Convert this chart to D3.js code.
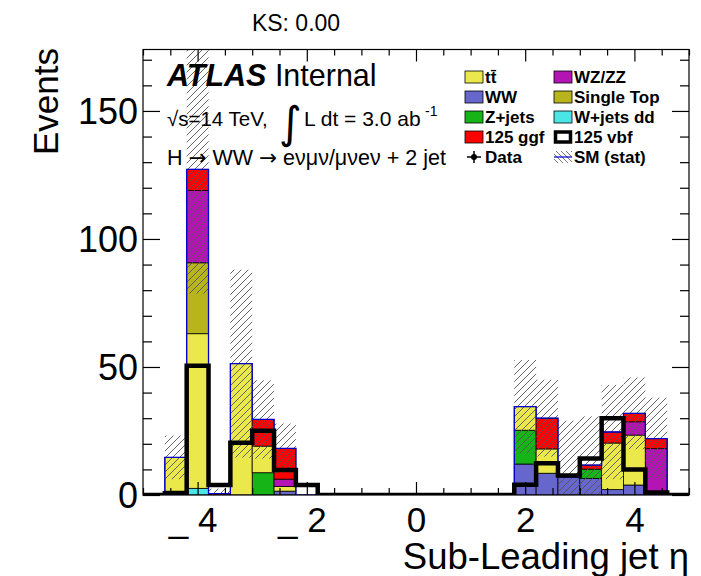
<!DOCTYPE html>
<html>
<head>
<meta charset="utf-8">
<title>Sub-Leading jet eta</title>
<script src="https://d3js.org/d3.v7.min.js"></script>
<style>
  body { margin: 0; background: #fff; }
  text { font-family: "Liberation Sans", Arial, sans-serif; fill: #000; }
</style>
</head>
<body>
<script>
// canvas and frame
var w = 701, h = 576;
var frameL = 143, frameR = 689, frameT = 49.5, frameB = 495;

// 25 bins in eta, width 0.4
var binEdges = [-5, -4.6, -4.2, -3.8, -3.4, -3.0, -2.6, -2.2, -1.8, -1.4, -1.0, -0.6, -0.2,
                0.2, 0.6, 1.0, 1.4, 1.8, 2.2, 2.6, 3.0, 3.4, 3.8, 4.2, 4.6, 5];

// background samples (events per bin)
var ww    = [0, 1.5, 0, 0, 0, 0, 1.5, 0, 0, 0, 0, 0, 0, 0, 0, 0, 0, 12.1, 8.5, 7.0, 6.5, 2.1, 3.9, 0.5, 0];
var wjets = [0, 0, 2.6, 0, 0, 0, 0, 0, 0, 0, 0, 0, 0, 0, 0, 0, 0, 0, 0, 0, 0, 0, 0, 0, 0];
var zjets = [0, 0, 0, 0, 0, 8.7, 0, 0, 0, 0, 0, 0, 0, 0, 0, 0, 0, 13.2, 0, 0, 3.6, 0, 0, 0, 0];
var ttbar = [0, 13.2, 60.4, 0, 51.3, 10.4, 1.8, 0, 0, 0, 0, 0, 0, 0, 0, 0, 0, 9.2, 9.5, 0, 0, 18.2, 19.5, 0, 0];
var stop  = [0, 0, 27.7, 0, 0, 0, 0, 0, 0, 0, 0, 0, 0, 0, 0, 0, 0, 0, 0, 0, 0, 0, 0, 0, 0];
var wzzz  = [0, 0, 28.2, 0, 0, 0, 2.9, 0, 0, 0, 0, 0, 0, 0, 0, 0, 0, 0, 0, 0, 0, 0, 5.2, 17.6, 0];
var ggf   = [0, 0, 8.3, 0.5, 0, 10.4, 12.0, 0, 0, 0, 0, 0, 0, 0, 0, 0, 0, 0, 12.0, 0, 1.6, 4.3, 3.3, 3.9, 0];
// signal drawn as outline
var vbf   = [0, 0.7, 50.5, 3.9, 20.4, 25.1, 9.8, 3.9, 0, 0, 0, 0, 0, 0, 0, 0, 0, 4.0, 12.4, 7.6, 14.3, 30.0, 10.0, 1.0, 0];
// SM stat uncertainty
var statErr = [0, 8.5, 48.5, 2.0, 36.7, 15.3, 9.7, 0, 0, 0, 0, 0, 0, 0, 0, 0, 0, 18.2, 15.0, 22.0, 19.0, 18.4, 14.0, 16.0, 0];

var xMajorTicks = [-4, -2, 0, 2, 4];
var yMajorTicks = [0, 50, 100, 150];

var stackKeys   = ["ww", "wjets", "zjets", "ttbar", "stop", "wzzz", "ggf"];
var stackColors = {ww: "#6666cc", wjets: "#4ae6e6", zjets: "#16b416", ttbar: "#eae84a",
                   stop: "#b8b41c", wzzz: "#b414b4", ggf: "#ff0000"};

// table for the stack layout
var rows = binEdges.slice(0, -1).map(function(lo, i) {
  return {lo: lo, hi: binEdges[i + 1], ww: ww[i], wjets: wjets[i], zjets: zjets[i],
          ttbar: ttbar[i], stop: stop[i], wzzz: wzzz[i], ggf: ggf[i]};
});
var totals = rows.map(function(r) {
  return d3.sum(stackKeys, function(k) { return r[k]; });
});

var x = d3.scaleLinear().domain([-5, 5]).range([frameL, frameR]);
var y = d3.scaleLinear().domain([0, 174]).range([frameB, frameT]);

var svg = d3.select("body").append("svg")
  .attr("width", w)
  .attr("height", h);

var defs = svg.append("defs");
defs.append("clipPath").attr("id", "plotclip")
  .append("rect")
  .attr("x", frameL).attr("y", frameT)
  .attr("width", frameR - frameL).attr("height", frameB - frameT);

var hatch = defs.append("pattern")
  .attr("id", "hatch")
  .attr("patternUnits", "userSpaceOnUse")
  .attr("width", 7).attr("height", 7);
hatch.append("path")
  .attr("d", "M-1,1 l2,-2 M0,7 l7,-7 M6,8 l2,-2")
  .attr("stroke", "#555")
  .attr("stroke-width", 0.9);

var legHatch = defs.append("pattern")
  .attr("id", "leghatch")
  .attr("patternUnits", "userSpaceOnUse")
  .attr("width", 5).attr("height", 5);
legHatch.append("path")
  .attr("d", "M-1,4 l2,2 M0,0 l5,5 M4,-1 l2,2")
  .attr("stroke", "#555")
  .attr("stroke-width", 0.8);

var plot = svg.append("g").attr("clip-path", "url(#plotclip)");

// stacked backgrounds
var series = d3.stack().keys(stackKeys)(rows);
series.forEach(function(s) {
  plot.append("g")
    .selectAll("rect")
    .data(s.filter(function(d) { return d[1] - d[0] > 0; }))
    .enter()
    .append("rect")
    .attr("x", function(d) { return x(d.data.lo); })
    .attr("width", function(d) { return x(d.data.hi) - x(d.data.lo); })
    .attr("y", function(d) { return y(d[1]); })
    .attr("height", function(d) { return y(d[0]) - y(d[1]); })
    .attr("fill", stackColors[s.key])
    .attr("stroke", "#000")
    .attr("stroke-width", 0.8);
});

// stat band
plot.append("g")
  .selectAll("rect")
  .data(rows.filter(function(d, i) { return statErr[i] > 0; }))
  .enter()
  .append("rect")
  .attr("x", function(d) { return x(d.lo); })
  .attr("width", function(d) { return x(d.hi) - x(d.lo); })
  .attr("y", function(d) { var i = rows.indexOf(d); return y(totals[i] + statErr[i]); })
  .attr("height", function(d) {
    var i = rows.indexOf(d);
    return y(Math.max(totals[i] - statErr[i], 0)) - y(totals[i] + statErr[i]);
  })
  .attr("fill", "url(#hatch)");

// step outlines
var step = d3.line()
  .x(function(d) { return x(d[0]); })
  .y(function(d) { return y(d[1]); })
  .curve(d3.curveStepAfter);

function stepPoints(vals) {
  return binEdges.map(function(e, i) { return [e, vals[Math.min(i, vals.length - 1)]]; });
}

plot.append("path")
  .attr("d", step(stepPoints(totals)))
  .attr("fill", "none")
  .attr("stroke", "#0000cc")
  .attr("stroke-width", 1.3);

plot.append("path")
  .attr("d", step(stepPoints(vbf)))
  .attr("fill", "none")
  .attr("stroke", "#000")
  .attr("stroke-width", 4.5)
  .attr("stroke-linejoin", "miter");

// frame
svg.append("rect")
  .attr("x", frameL).attr("y", frameT)
  .attr("width", frameR - frameL).attr("height", frameB - frameT)
  .attr("fill", "none")
  .attr("stroke", "#000")
  .attr("stroke-width", 1.2);

// axes (ROOT style: ticks inside, on all four sides)
var xMinor = d3.range(-5, 5.01, 0.5).filter(function(v) { return xMajorTicks.indexOf(v) < 0; });
var yMinor = d3.range(0, 174, 10).filter(function(v) { return yMajorTicks.indexOf(v) < 0; });

function addAxis(axis, tx, ty) {
  var g = svg.append("g")
    .attr("transform", "translate(" + tx + "," + ty + ")")
    .call(axis);
  g.select(".domain").remove();
  g.selectAll("line").attr("stroke", "#000").attr("stroke-width", 1.2);
  return g;
}

var xAxisG = addAxis(d3.axisBottom(x).tickValues(xMajorTicks).tickSize(-13)
  .tickFormat(function(d) { return d < 0 ? "_ " + Math.abs(d) : d; }), 0, frameB);
xAxisG.selectAll("text")
  .attr("y", 37).attr("dy", 0)
  .attr("x", function(d) { return d < 0 ? -5 : 0; })
  .style("font-size", "35px")
  .style("font-family", "Liberation Sans, Arial, sans-serif");
addAxis(d3.axisBottom(x).tickValues(xMinor).tickSize(-7).tickFormat(""), 0, frameB);
addAxis(d3.axisTop(x).tickValues(xMajorTicks).tickSize(-12).tickFormat(""), 0, frameT);
addAxis(d3.axisTop(x).tickValues(xMinor).tickSize(-6).tickFormat(""), 0, frameT);

var yAxisG = addAxis(d3.axisLeft(y).tickValues(yMajorTicks).tickSize(-17), frameL, 0);
yAxisG.selectAll("text")
  .attr("x", -5).attr("dy", "0.36em")
  .style("font-size", "36px")
  .style("font-family", "Liberation Sans, Arial, sans-serif");
addAxis(d3.axisLeft(y).tickValues(yMinor).tickSize(-9).tickFormat(""), frameL, 0);
addAxis(d3.axisRight(y).tickValues(yMajorTicks).tickSize(-17).tickFormat(""), frameR, 0);
addAxis(d3.axisRight(y).tickValues(yMinor).tickSize(-9).tickFormat(""), frameR, 0);

// titles
svg.append("text")
  .attr("transform", "translate(58," + 48 + ") rotate(-90)")
  .attr("text-anchor", "end")
  .style("font-size", "35px")
  .text("Events");

svg.append("text")
  .attr("x", frameR).attr("y", 569)
  .attr("text-anchor", "end")
  .style("font-size", "36.5px")
  .text("Sub-Leading jet η");

svg.append("text")
  .attr("x", 296).attr("y", 31)
  .attr("text-anchor", "middle")
  .style("font-size", "23px")
  .text("KS: 0.00");

// ATLAS label
var atl = svg.append("text").attr("x", 167).attr("y", 86).style("font-size", "30.5px");
atl.append("tspan").style("font-weight", "bold").style("font-style", "italic").text("ATLAS");
atl.append("tspan").text(" Internal");

svg.append("text").attr("x", 167).attr("y", 126).style("font-size", "20.5px").text("√s=14 TeV,");
svg.append("text").attr("x", 279).attr("y", 138).style("font-size", "44px")
  .style("font-family", "DejaVu Sans, sans-serif").text("∫");
svg.append("text").attr("x", 304).attr("y", 126).style("font-size", "21px").text("L dt = 3.0 ab");
svg.append("text").attr("x", 425).attr("y", 116).style("font-size", "14px").text("-1");

var decay = svg.append("text").attr("x", 167).attr("y", 165).style("font-size", "21.5px");
decay.append("tspan").text("H ");
decay.append("tspan").style("font-family", "DejaVu Sans, sans-serif").text("→");
decay.append("tspan").text(" WW ");
decay.append("tspan").style("font-family", "DejaVu Sans, sans-serif").text("→");
decay.append("tspan").text(" eνμν/μνeν + 2 jet");

// legend
var legLabels = ["tt̄", "WZ/ZZ", "WW", "Single Top", "Z+jets", "W+jets dd", "125 ggf", "125 vbf", "Data", "SM (stat)"];
var legKinds  = ["ttbar", "wzzz", "ww", "stop", "zjets", "wjets", "ggf", "vbf", "data", "stat"];
var legColX = [465, 554], legRowY = 77, legRowH = 20;

legLabels.forEach(function(lab, i) {
  var bx = legColX[i % 2], cy = legRowY + Math.floor(i / 2) * legRowH;
  var kind = legKinds[i];
  if (stackColors[kind]) {
    svg.append("rect").attr("x", bx).attr("y", cy - 6).attr("width", 18).attr("height", 12)
      .attr("fill", stackColors[kind]).attr("stroke", "#000").attr("stroke-width", 0.8);
  } else if (kind === "vbf") {
    svg.append("rect").attr("x", bx + 1.5).attr("y", cy - 5).attr("width", 15).attr("height", 10)
      .attr("fill", "#fff").attr("stroke", "#000").attr("stroke-width", 3.5);
  } else if (kind === "data") {
    svg.append("line").attr("x1", bx + 2).attr("x2", bx + 16).attr("y1", cy).attr("y2", cy)
      .attr("stroke", "#000").attr("stroke-width", 1.5);
    svg.append("line").attr("x1", bx + 9).attr("x2", bx + 9).attr("y1", cy - 6).attr("y2", cy + 6)
      .attr("stroke", "#000").attr("stroke-width", 1.5);
    svg.append("circle").attr("cx", bx + 9).attr("cy", cy).attr("r", 3).attr("fill", "#000");
  } else {
    svg.append("rect").attr("x", bx).attr("y", cy - 6).attr("width", 18).attr("height", 12)
      .attr("fill", "url(#leghatch)");
    svg.append("line").attr("x1", bx).attr("x2", bx + 18).attr("y1", cy).attr("y2", cy)
      .attr("stroke", "#0000cc").attr("stroke-width", 1.2);
  }
  svg.append("text")
    .attr("x", bx + 20).attr("y", cy + 6)
    .style("font-size", "17px")
    .style("font-weight", "bold")
    .text(lab);
});
</script>
</body>
</html>
